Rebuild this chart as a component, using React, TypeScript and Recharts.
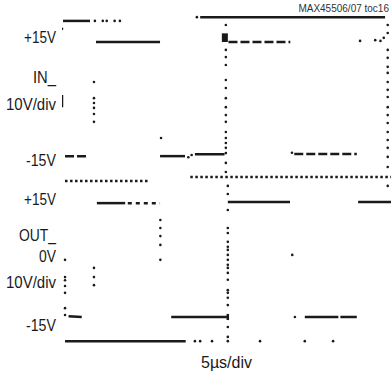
import { ComposedChart, Line, Scatter, XAxis, YAxis } from "recharts";

type Pt = [number, number];

// x: time in µs (5µs/div, 10 div), y: volts of each channel (10V/div)

// IN_ channel
const inSolid: Pt[][] = [
  [[0.15, 20.6], [4.26, 20.6]],
  [[21.0, 21.6], [49.1, 21.6]],
  [[5.17, 15], [14.9, 15]],
  [[14.9, -15.3], [18.7, -15.3]],
  [[20.2, -14.8], [24.7, -14.8]],
  [[0, 0.9], [0, -2.3]],
];
const inBlob: Pt[][] = [[[24.75, 17.3], [24.75, 15]]];
const inDashed: Pt[][] = [
  [[0.46, -15.3], [4.1, -15.3]],
  [[25.3, 15], [34.7, 15]],
  [[35.3, -14.7], [44.8, -14.7]],
];
const inDots: Pt[] = [
  [5.0, 20.6], [6.2, 20.6], [6.8, 20.6], [8.0, 20.6], [8.8, 20.6],
  [20.5, 21.6], [0, 18.5],
  [4.86, 4.4], [4.86, 0.1], [4.86, -1.2], [4.86, -2.5], [4.86, -4.1], [4.86, -6.2],
  [15.05, -10.5], [19.2, -15.6], [19.7, -15.0], [34.95, -14.4],
  [45.3, 15.3], [47.6, 15.5], [48.4, 15.3], [48.9, 16.1],
  [24.9, 19.5], [24.9, 12.9], [24.9, 11.0], [24.9, 8.9], [24.9, 4.9], [24.9, 2.8],
  [24.9, 0.1], [24.9, -2.3], [24.9, -4.4], [24.9, -6.2], [24.9, -8.9], [24.9, -10.5],
  [24.9, -11.8], [24.9, -13.1], [24.9, -14.5], [24.9, -17.1], [24.9, -19.5],
  [49.5, 19.5], [49.5, 17.4], [49.5, 12.9], [49.5, 10.8], [49.5, 8.4], [49.5, 6.8],
  [49.5, 4.4], [49.5, 2.3], [49.5, 0.4], [49.5, -2.3], [49.5, -4.4], [49.5, -6.5],
  [49.5, -8.9], [49.5, -11.0], [49.5, -13.1], [49.5, -15.5], [49.5, -18.2],
];

// OUT_ channel
const outSolid: Pt[][] = [
  [[5.3, 14.7], [9.6, 14.7]],
  [[25.2, 15], [34.65, 15]],
  [[45.0, 15], [50, 15]],
  [[16.6, -15], [25.2, -15]],
  [[25.2, -14.2], [25.2, -15.8]],
  [[36.9, -15], [42.0, -15]],
  [[42.3, -15], [44.8, -15]],
  [[0.46, -21.3], [18.8, -21.3]],
  [[1.0, -14.8], [3.0, -15]],
];
const outDashed: Pt[][] = [[[10.0, 14.7], [14.9, 14.7]]];
const outDotted: Pt[][] = [
  [[0.46, 20.5], [13.1, 20.5]],
  [[19.5, 21.5], [50, 21.5]],
];
const outDots: Pt[] = [
  [14.95, 10.3], [14.95, 8.2], [14.95, 6.1], [14.95, 3.8], [14.95, -0.1],
  [0.46, -0.1], [0.46, -4.6], [0.46, -5.4], [0.46, -6.9], [0.46, -8.7], [0.46, -12.7], [0.46, -14.5],
  [4.86, -2.2], [4.86, -4.6], [4.86, -6.7],
  [25.2, 19.2], [25.2, 17.1], [25.2, 12.9], [25.2, 8.2], [25.2, 6.9], [25.2, 4.6],
  [25.2, 3.3], [25.2, 2.5], [25.2, 1.2], [25.2, -0.1], [25.2, -1.4], [25.2, -2.2],
  [25.2, -3.5], [25.2, -5.3], [25.2, -8.0], [25.2, -8.7], [25.2, -10.0], [25.2, -11.9],
  [25.2, -17.6], [25.2, -20.2],
  [35.0, 1.2], [35.4, -15],
  [20.2, -21.3], [21.0, -21.3], [22.8, -21.3], [25.2, -21.3], [30.1, -21.3], [36.9, -21.3], [41.2, -21.3],
  [49.5, 19.2],
];

const inTicks = [16.3, 5.7, -1.5, -16.3];
const inTickLabels = ["+15V", "IN_", "10V/div", "-15V"];
const outTicks = [15.7, 6.4, 0.9, -5.9, -17.1];
const outTickLabels = ["+15V", "OUT_", "0V", "10V/div", "-15V"];

const FONT = "'Liberation Sans', Arial, sans-serif";
const INK = "#1a1a1a";
// the scope fonts are condensed: squeeze each label to its measured width
const TEXT_WIDTH: Record<string, number> = {
  "+15V": 32,
  "-15V": 30,
  "IN_": 23,
  "OUT_": 37,
  "0V": 17,
  "10V/div": 50,
  "5µs/div": 51,
};
const LABEL_RIGHT = 56;

const rows = (seg: Pt[]) => seg.map(([t, v]) => ({ t, v }));

const dot = (p: any) => <circle cx={p.cx} cy={p.cy} r={1.3} fill={INK} />;

function squeezed(text: string, x: number, y: number, anchor: "start" | "middle" | "end", size = 17, fill = INK) {
  return (
    <text
      x={x}
      y={y}
      textAnchor={anchor}
      fontFamily={FONT}
      fontSize={size}
      fill={fill}
      textLength={TEXT_WIDTH[text]}
      lengthAdjust="spacingAndGlyphs"
    >
      {text}
    </text>
  );
}

function makeTick(ticks: number[], labels: string[]) {
  return (p: any) => {
    const label = labels[ticks.indexOf(p.payload.value)] ?? "";
    return <g>{squeezed(label, LABEL_RIGHT, p.y + 6, "end")}</g>;
  };
}

function lines(id: string, segs: Pt[][], width: number, dash?: string) {
  return segs.map((seg, i) => (
    <Line
      key={`${id}-${i}-${dash ?? "s"}-${width}`}
      yAxisId={id}
      data={rows(seg)}
      dataKey="v"
      type="linear"
      stroke={INK}
      strokeWidth={width}
      strokeDasharray={dash}
      dot={false}
      activeDot={false}
      isAnimationActive={false}
    />
  ));
}

export default function App() {
  return (
    <div style={{ position: "absolute", left: 0, top: 0, width: 391, height: 375, background: "#fff" }}>
      <ComposedChart width={391} height={375} margin={{ top: 8, right: 0, bottom: 0, left: 0 }}>
        <XAxis
          type="number"
          dataKey="t"
          domain={[0, 50]}
          allowDataOverflow
          ticks={[]}
          tick={false}
          axisLine={false}
          tickLine={false}
          height={27}
          label={(p: any) => {
            const vb = p.viewBox ?? { x: 62, y: 348, width: 329, height: 27 };
            return squeezed("5µs/div", vb.x + vb.width / 2, vb.y + vb.height - 7, "middle");
          }}
        />
        <YAxis
          yAxisId="in"
          dataKey="v"
          type="number"
          width={31}
          domain={[-66.24, 24.03]}
          allowDataOverflow
          ticks={inTicks}
          interval={0}
          axisLine={false}
          tickLine={false}
          tick={makeTick(inTicks, inTickLabels)}
        />
        <YAxis
          yAxisId="out"
          dataKey="v"
          type="number"
          width={31}
          domain={[-23.09, 65.6]}
          allowDataOverflow
          ticks={outTicks}
          interval={0}
          axisLine={false}
          tickLine={false}
          tick={makeTick(outTicks, outTickLabels)}
        />
        {lines("in", inSolid, 2.5)}
        {lines("in", inBlob, 6)}
        {lines("in", inDashed, 2.5, "9 3")}
        {lines("out", outSolid, 2.5)}
        {lines("out", outDashed, 2.5, "4 4")}
        {lines("out", outDotted, 2.5, "2.5 2.5")}
        <Scatter yAxisId="in" data={rows(inDots)} dataKey="v" shape={dot} isAnimationActive={false} />
        <Scatter yAxisId="out" data={rows(outDots)} dataKey="v" shape={dot} isAnimationActive={false} />
      </ComposedChart>
      <div
        style={{
          position: "absolute",
          right: 2,
          top: 3,
          fontFamily: FONT,
          fontSize: 10,
          lineHeight: "12px",
          color: "#333",
          whiteSpace: "nowrap",
        }}
      >
        MAX45506/07 toc16
      </div>
    </div>
  );
}
